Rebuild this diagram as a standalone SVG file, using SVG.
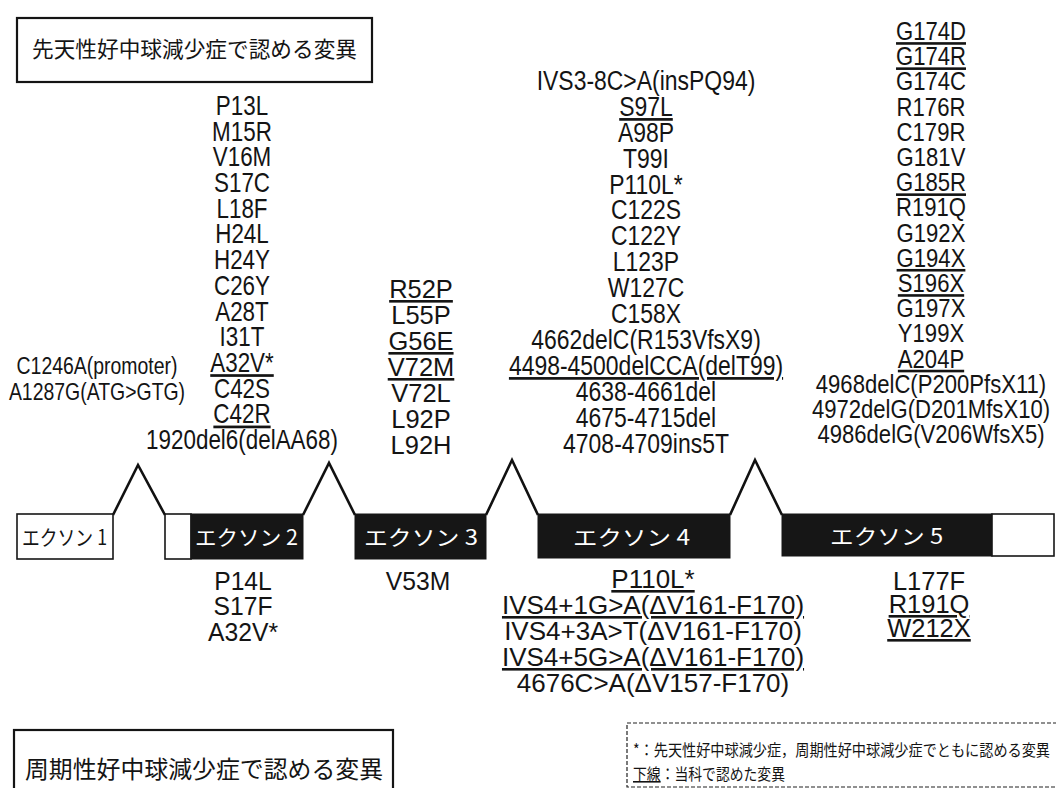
<svg xmlns="http://www.w3.org/2000/svg" width="1056" height="788" viewBox="0 0 1056 788">
<style>
.lat{font-family:"Liberation Sans",Arial,sans-serif;fill:#141414;text-anchor:middle}
.u{text-decoration:underline}
.jp{font-family:"Noto Sans CJK JP","Noto Sans CJK SC",sans-serif;fill:#141414}
.box{fill:#fff;stroke:#141414;stroke-width:2.2}
.dark{fill:#161616;stroke:#161616;stroke-width:1}
.white{fill:#fff;stroke:#161616;stroke-width:1.6}
.intron{fill:none;stroke:#111;stroke-width:2.6;stroke-linejoin:miter}
.lbl{font-family:"Noto Sans CJK JP","Noto Sans CJK SC",sans-serif;font-size:21px}
</style>
<rect width="1056" height="788" fill="#fff"/>

<g id="title-congenital">
<rect class="box" x="17" y="18" width="355" height="64"/>
<text class="jp" x="32" y="57" font-size="22" textLength="325" lengthAdjust="spacingAndGlyphs">先天性好中球減少症で認める変異</text>
</g>

<g id="title-cyclic">
<rect class="box" x="14" y="730" width="379" height="70"/>
<text class="jp" x="25" y="778" font-size="24" textLength="358" lengthAdjust="spacingAndGlyphs">周期性好中球減少症で認める変異</text>
</g>

<g id="legend">
<rect x="627" y="723" width="440" height="64" fill="#fff" stroke="#222" stroke-width="1.2" stroke-dasharray="4 2"/>
<text class="jp" x="633" y="756" font-size="16" textLength="417" lengthAdjust="spacingAndGlyphs">*：先天性好中球減少症，周期性好中球減少症でともに認める変異</text>
<text class="jp" x="633" y="780" font-size="16" textLength="152" lengthAdjust="spacingAndGlyphs"><tspan text-decoration="underline">下線</tspan>：当科で認めた変異</text>
</g>

<g id="connectors">
<polyline class="intron" points="113,515 138,465 165,515"/>
<polyline class="intron" points="303,515 329,463 355,515"/>
<polyline class="intron" points="486,515 512,460 538,515"/>
<polyline class="intron" points="730,515 755,460 782,515"/>
</g>

<g id="exon1">
<rect class="white" x="17" y="514" width="96" height="45"/>
<text class="lbl" x="22" y="545" fill="#141414" textLength="85" lengthAdjust="spacingAndGlyphs">エクソン 1</text>
</g>
<g id="exon2">
<rect class="white" x="165" y="514" width="26" height="45"/>
<rect class="dark" x="191" y="514" width="112" height="45"/>
<text class="lbl" x="195" y="545" fill="#fff" textLength="103" lengthAdjust="spacingAndGlyphs">エクソン 2</text>
</g>
<g id="exon3">
<rect class="dark" x="355" y="514" width="131" height="45"/>
<text class="lbl" x="364" y="545" fill="#fff" textLength="114" lengthAdjust="spacingAndGlyphs">エクソン 3</text>
</g>
<g id="exon4">
<rect class="dark" x="538" y="514" width="192" height="44"/>
<text class="lbl" x="573" y="545" fill="#fff" textLength="117" lengthAdjust="spacingAndGlyphs">エクソン 4</text>
</g>
<g id="exon5">
<rect class="dark" x="782" y="514" width="210" height="42"/>
<rect class="white" x="992" y="514" width="62" height="42"/>
<text class="lbl" x="830" y="544" fill="#fff" textLength="113" lengthAdjust="spacingAndGlyphs">エクソン 5</text>
</g>

<g id="promoter-congenital" class="lat" font-size="24" transform="translate(97,0) scale(0.81,1)">
<text y="374">C1246A(promoter)</text>
<text y="400">A1287G(ATG&gt;GTG)</text>
</g>

<g id="exon2-congenital" class="lat" font-size="27" transform="translate(242,0) scale(0.83,1)">
<text y="115">P13L</text>
<text y="140.7">M15R</text>
<text y="166.4">V16M</text>
<text y="192.1">S17C</text>
<text y="217.8">L18F</text>
<text y="243.5">H24L</text>
<text y="269.2">H24Y</text>
<text y="294.9">C26Y</text>
<text y="320.6">A28T</text>
<text y="346.3">I31T</text>
<text y="372" class="u">A32V*</text>
<text y="397.7">C42S</text>
<text y="423.4" class="u">C42R</text>
<text y="449.1">1920del6(delAA68)</text>
</g>

<g id="exon3-congenital" class="lat" font-size="26" transform="translate(421,0) scale(0.98,1)">
<text y="298" class="u">R52P</text>
<text y="324">L55P</text>
<text y="350" class="u">G56E</text>
<text y="376" class="u">V72M</text>
<text y="402">V72L</text>
<text y="428">L92P</text>
<text y="454">L92H</text>
</g>

<g id="exon4-congenital" class="lat" font-size="27" transform="translate(646,0) scale(0.85,1)">
<text y="90">IVS3-8C&gt;A(insPQ94)</text>
<text y="115.9" class="u">S97L</text>
<text y="141.8">A98P</text>
<text y="167.7">T99I</text>
<text y="193.6">P110L*</text>
<text y="219.5">C122S</text>
<text y="245.4">C122Y</text>
<text y="271.3">L123P</text>
<text y="297.2">W127C</text>
<text y="323.1">C158X</text>
<text y="349">4662delC(R153VfsX9)</text>
<text y="374.9" class="u">4498-4500delCCA(delT99)</text>
<text y="400.8">4638-4661del</text>
<text y="426.7">4675-4715del</text>
<text y="452.6">4708-4709ins5T</text>
</g>

<g id="exon5-congenital" class="lat" font-size="26" transform="translate(931,0) scale(0.85,1)">
<text y="40" class="u">G174D</text>
<text y="65.2" class="u">G174R</text>
<text y="90.4">G174C</text>
<text y="115.6">R176R</text>
<text y="140.8">C179R</text>
<text y="166">G181V</text>
<text y="191.2" class="u">G185R</text>
<text y="216.4">R191Q</text>
<text y="241.6">G192X</text>
<text y="266.8" class="u">G194X</text>
<text y="292" class="u">S196X</text>
<text y="317.2">G197X</text>
<text y="342.4">Y199X</text>
<text y="367.6" class="u">A204P</text>
<text y="392.8">4968delC(P200PfsX11)</text>
<text y="418">4972delG(D201MfsX10)</text>
<text y="443.2">4986delG(V206WfsX5)</text>
</g>

<g id="exon2-cyclic" class="lat" font-size="26" transform="translate(243,0) scale(0.95,1)">
<text y="590">P14L</text>
<text y="615.5">S17F</text>
<text y="641">A32V*</text>
</g>

<g id="exon3-cyclic" class="lat" font-size="26" transform="translate(418,0) scale(0.95,1)">
<text y="590">V53M</text>
</g>

<g id="exon4-cyclic" class="lat" font-size="26" transform="translate(653,0) scale(1,1)">
<text y="588" class="u">P110L*</text>
<text y="614" class="u">IVS4+1G&gt;A(ΔV161-F170)</text>
<text y="640">IVS4+3A&gt;T(ΔV161-F170)</text>
<text y="666" class="u">IVS4+5G&gt;A(ΔV161-F170)</text>
<text y="692">4676C&gt;A(ΔV157-F170)</text>
</g>

<g id="exon5-cyclic" class="lat" font-size="26" transform="translate(929,0) scale(0.98,1)">
<text y="590">L177F</text>
<text y="613" class="u">R191Q</text>
<text y="637" class="u">W212X</text>
</g>
</svg>
